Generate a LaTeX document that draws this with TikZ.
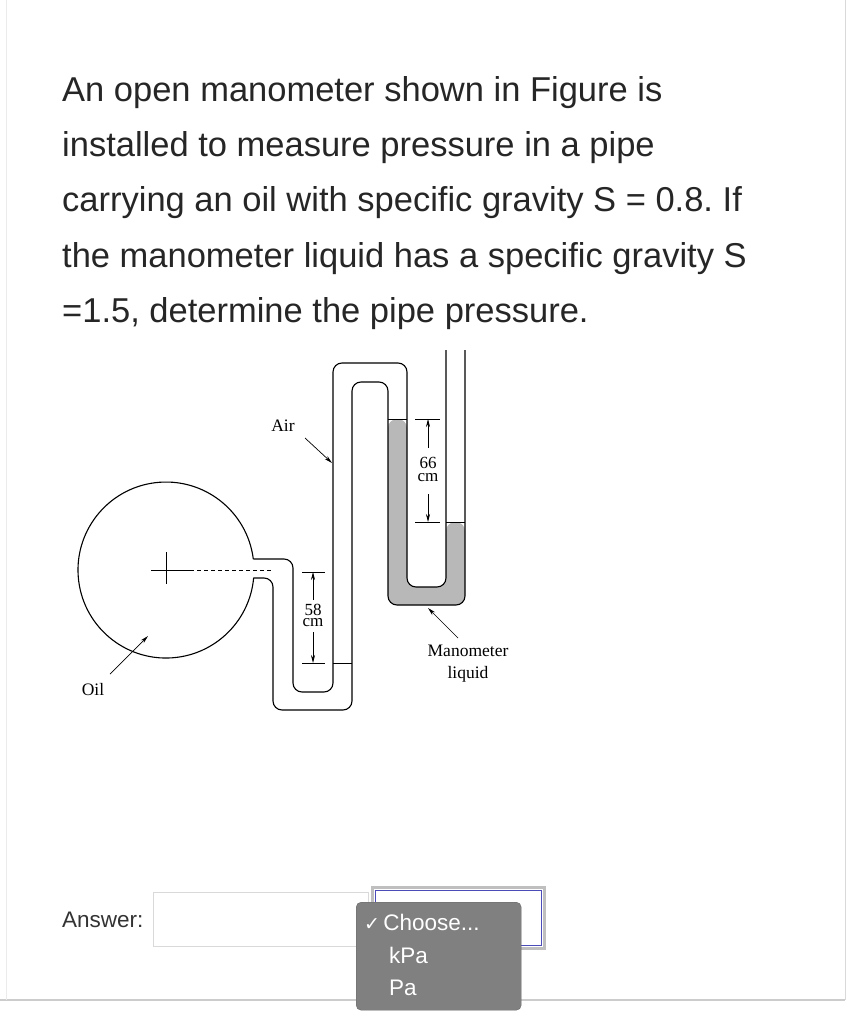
\documentclass[tikz,border=0pt]{standalone}
\usepackage{fontspec}
\setmainfont{Liberation Sans}
\newfontfamily\serifm{Liberation Serif}
\newfontfamily\dejavu{DejaVu Sans}
\usetikzlibrary{arrows.meta}
\frenchspacing
\definecolor{liq}{gray}{0.72}
\tikzset{
  tube/.style={line width=1.1pt, rounded corners=9pt},
  q/.style={anchor=base west, inner sep=0pt, font=\fontsize{34.5}{40}\selectfont, text=black!85},
  lab/.style={inner sep=0pt, font=\serifm\fontsize{17.5}{18}\selectfont},
  dim/.style={line width=0.7pt},
  arr/.style={line width=0.7pt, -{Stealth[length=8pt,width=4pt]}},
  ui/.style={inner sep=0pt, font=\fontsize{22.5}{26}\selectfont}
}
\begin{document}
\begin{tikzpicture}[x=1pt,y=-1pt]
\useasboundingbox (0,0) rectangle (851,1024);
\fill[white] (0,0) rectangle (851,1024);
% card edges
\draw[black!15, line width=1pt] (845,0) -- (845,1000);
\draw[black!20, line width=2pt] (0,1000) -- (845,1000);
\draw[black!8, line width=1pt] (6,0) -- (6,1000);
% question text
\node[q] (l1) at (62,102) {An open manometer shown in Figure is};
\node[q] (l2) at (62,157) {installed to measure pressure in a pipe};
\node[q] (l3) at (62,212) {carrying an oil with specific gravity S = 0.8. If};
\node[q] (l4) at (62,267) {the manometer liquid has a specific gravity S};
\node[q] (l5) at (62,322) {=1.5, determine the pipe pressure.};
% liquid fill
\fill[liq, rounded corners=9pt] (388,419) -- (388,605) -- (465,605) -- (465,522) -- (446,522) -- (446,587) -- (407,587) -- (407,419) -- cycle;
% circle + tubes
\draw[line width=1.1pt] (253.3,559) arc[start angle=-7.2, end angle=-354.8, radius=88];
\draw[tube] (253.3,559) -- (293,559) -- (293,692) -- (333,692) -- (333,363) -- (407,363) -- (407,587) -- (446,587) -- (446,350);
\draw[tube] (253.3,578) -- (273,578) -- (273,710) -- (352,710) -- (352,382) -- (388,382) -- (388,605) -- (465,605) -- (465,350);
% levels
\draw[line width=0.8pt] (333,663) -- (352,663);
\draw[line width=0.8pt] (388,419) -- (407,419);
\draw[line width=0.8pt] (446,522) -- (465,522);
% centre cross and dashed axis
\draw[line width=0.9pt] (151,570) -- (190,570) (166,552) -- (166,584);
\draw[line width=0.9pt, dashed, dash pattern=on 4pt off 3pt] (190,570) -- (273,570);
% 58 cm dimension
\draw[dim] (302,572) -- (325,572) (302,663) -- (325,663);
\node[lab, font=\serifm\fontsize{17}{12}\selectfont] (t58) at (313,610) {58};
\node[lab, font=\serifm\fontsize{17}{12}\selectfont] (c58) at (313,623) {cm};
\draw[arr] (313,600) -- (313,572);
\draw[arr] (313,632) -- (313,663);
% 66 cm dimension
\draw[dim] (415,419) -- (440,419) (415,522) -- (440,522);
\node[lab, font=\serifm\fontsize{17}{12}\selectfont] (t66) at (428,463) {66};
\node[lab, font=\serifm\fontsize{17}{12}\selectfont] (c66) at (428,478) {cm};
\draw[arr] (428,448) -- (428,419);
\draw[arr] (428,494) -- (428,522);
% labels
\node[lab] (air) at (283,426) {Air};
\coordinate (airp) at (332,463);
\draw[arr] (305,438) -- (airp);
\node[lab] (oil) at (93,690) {Oil};
\coordinate (oilp) at (148,636);
\draw[arr] (110,674) -- (oilp);
\node[lab, align=center, font=\serifm\fontsize{17.5}{22}\selectfont] (ml) at (468,664) {Manometer\\liquid};
\coordinate (mlp) at (428,608);
\draw[arr] (458,638) -- (mlp);
% answer UI
\node[ui, anchor=west, text=black!80] (ans) at (62,920) {Answer:};
\draw[black!15, line width=1pt] (153,892) rectangle (368,946);
\draw[black!25, line width=3pt] (372,887) rectangle (544,948);
\draw[blue!60!black!70, line width=1pt] (375,890) rectangle (541,945);
\node[draw=black!60, fill=black!50, rounded corners=5pt, minimum width=165pt, minimum height=108pt, anchor=north west, inner sep=0pt] (menu) at (356,902) {};
\node[ui, anchor=west, text=white] (ch) at (364,922) {\dejavu\fontsize{19}{22}\selectfont ✓\,\rmfamily\fontsize{22.5}{26}\selectfont Choose...};
\node[ui, anchor=west, text=white] (kpa) at (389,955) {kPa};
\node[ui, anchor=west, text=white] (pa) at (389,988) {Pa};
\end{tikzpicture}
\end{document}
